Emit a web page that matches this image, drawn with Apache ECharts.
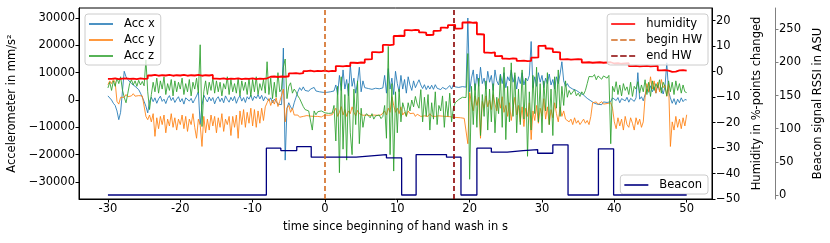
<!DOCTYPE html>
<html><head><meta charset="utf-8">
<script src="https://cdn.jsdelivr.net/npm/echarts@6/dist/echarts.min.js"></script>
<style>html,body{margin:0;padding:0;background:#fff}#c{width:830px;height:243px}</style>
</head><body><div id="c"></div>
<script>
// sampling of the accelerometer (s)
const accStart = -30, accStep = 0.25;
const accX = [
1500,800,0,-1200, -2000,-4000,-7200,-4500, 3000,10500,8500,7500, 6800,6000,5500,5000,
4300,3800,2500,1800, -500,-2300,-4700,-500, 1000,-600,800,-1200, 400,1400,-500,300,
-1300,600,1600,-200, 900,-900,300,1200, -700,500,-1500,800, 1300,-400,600,-1100,
200,1500,3000,-9000, -2000,1800,500,-700, 1100,-300,900,-1400, 400,1200,-600,700,
-1000,1500,200,-800, 1000,-300,1300,-1200, 500,1600,-400,900, -900,1200,300,1800,
-200,1400,600,2000, 400,1700,-300,1200, 500,-300,800,-1000, 300,-500,-1500,-800,
-1700,19000,-22000,-3000, -1000,-2500,-3500,-1000, 1000,3000,4500,3500, 4800,3500,4200,3200,
4000,3600,4600,3300, 3800,3000,3400,2800,
3200,2800,3500,3000, 2600,3300,5500,2000, 9000,3500,11000,4000, 7500,1500,13000,5000,
8000,2500,6500,12000, 3000,7000,4500,5000, 4200,4800,3900,4600, 4300,5000,4100,4700,
4400,9000,2500,11500, 4000,8000,2000,10500, 6000,3000,9000,4000, 7500,2500,8500,5500,
3500,7000,4500,6000, 7400,5500,4200,5600, 3800,5200,4000,5400, 3900,5600,4300,5000,
3800,4600,5200,3900, 4500,5300,4000,5600, 4800,5200,4600,5100, 4900,5300,4700,30000,
3000,8000,11000,3500, 9500,5000,12000,6000, 8000,4000,10500,6500, 9000,3500,11000,7000,
5500,9500,6000,10000, 4500,8500,7000,11000, 6500,9000,4000,8500, 6000,10000,5500,8000,
7000,9000,21400,4500, 8500,5000,10000,6500, 9000,4500,8000,6000, 9500,5500,7500,4000,
8500,6000,9500,14000, 7000,5000,6000,4800, 5200,4000,4600,3500, 3800,2600,3000,1800,
1500,600,800,-300, -500,-1200,-800,-1600, -1000,-1700,-700,-1400, -900,-1500,-600,800,
1300,-200,900,-1000, 500,1200,-300,1000, -800,600,1300,-500, 800,10000,300,1200,
-300,2000,4000,2800, 5200,3000,4800,2500, 5600,3500,4500,2200, 4800,13600,3000,800,
-1200,500,-1700,300, -1000,800,-600,200,
0];
const accY = [
5600,7000,6000,7500, 6500,-500,-1500,1000, 1500,1000,2000,1200, 1800,1500,2300,1400,
2000,1600,2200,1500, 1000,-6000,-7200,-5500, -8000,-5000,-13300,-6500, -10500,-6000,-9000,-5500,
-12000,-7000,-9500,-5000, -10000,-6500,-11000,-7000, -9000,-5500,-10500,-6000, -11500,-7000,-9000,-5000,
-10000,-14000,-7000,-9000, -17000,-6000,-12000,-7000, -11000,-5500,-9500,-6000, -12000,-6500,-10000,-5000,
-11500,-7000,-9000,-6000, -13000,-6000,-10000,-5500, -14000,-4000,-9000,-3500, -10000,-4500,-8500,-3000,
-9500,-3500,-10000,-4000, -8500,-3000,-7500,-2500, -1000,500,-2000,0, -1500,800,-2400,-500,
-1000,4000,-8000,-3000, -2000,-4500,-3000,-5500, -6000,-5500,-6300,-5800, -6000,-6200,-5700,-6100,
-5900,-6300,-6000,-5600, -6000,-5800,-6200,-5900,
-5500,-5300,-5600,-5200, -5400,-4800,-3000,-6000, -4500,-2400,-5500,-3500, -6000,-4000,-5000,-2500,
-4500,-5800,-3800,-5000, -5400,-5600,-5200,-5500, -5300,-5700,-5400,-5500, -5200,-5600,-5300,-5500,
-5000,-4000,-5500,-3000, -4500,1200,-2000,-4500, -3000,-5000,-2500,-5500, -4500,-6000,-4000,-5000,
-5500,-4800,-6000,-5200, -5000,-6000,-5300,-5800, -5500,-6000,-5000,-5900, -5200,-6000,-5400,-5800,
-5100,-5900,-5300,-6000, -5500,-6100,-5800,-6300, -6500,-6400,-6600,-6500, -6500,-6700,-6400,-16000,
2700,-1000,-4000,1500, -2000,1000,-14000,-500, -3000,1500,-2500,0, -3500,2000,-1500,-4000,
500,-3000,1200,-4500, -2000,-6000,-1000,-7500, -3000,1000,-5500,-2000, -8000,-2500,-9700,-3000,
-6000,-1000,-14500,-4000, -7500,-2000,-8500,-3000, -6000,500,-7000,-2500, -9000,-3500,-6500,-1000,
-5000,-8000,-2500,-6000, -4000,-7000,-6500,-8000, -7000,-9000,-6500,-8500, -7500,-9000,-8000,-7000,
-8500,-7500,-9000,-6000, -1000,-1500,-700,-1600, -1200,-600,-1500,-900, -1300,-1700,-1000,-3000,
-8000,-10500,-6500,-9500, -7000,-11000,-6000,-9000, -10000,-6500,-8500,-11000, -6500,-9000,-7000,-10000,
-8000,1000,6000,3000, 8500,4000,7000,2500, 6500,3000,7500,4500, 5500,1300,6000,-17000,
-8000,-11000,-6000,-10000, -7000,-10500,-6500,-9500,
-5400];
const accZ = [
4400,6500,3500,7000, 5000,8000,6000,8500, 3800,1000,-1000,2500, 6000,7400,5500,7000,
5000,7200,5500,6800, 5200,14700,3000,-3500, 2000,6500,3000,8000, 2500,7000,4000,8500,
2000,6000,3500,7500, 1500,7000,3000,6500, 4000,8000,2000,6000, 3000,7500,1500,6500,
4000,8000,2500,20200, -9700,3000,7000,2000, 6500,3500,8000,2500, 7000,3000,6500,1500,
6000,4000,8500,2000, 7500,3000,6000,2500, 8000,1500,7000,3500, 6500,2000,8000,1300,
7500,3000,8500,2000, 6000,3500,7500,2500, 14000,2000,8000,500, 6500,1000,10000,3000,
4000,12000,15000,500, 5000,6300,2500,4000, 3000,1500,500,0, -2400,-3500,-3000,-4000,
-4500,-11000,-4000,-5400, -4300,-4800,-4000,-4500,
-4700,-4500,-4900,-4400, -4800,-2000,-15000,5000, -26600,8500,-18000,2000, -22000,6000,-12000,-20000,
4000,-9000,7000,-16000, -3000,-10000,-6000,-5000, -5500,-6500,-5000,-7000, -5800,-6200,-5500,-6800,
-6000,-2000,-14000,19600, -20000,6000,-26000,3000, -12000,4000,-8000,-1000, -3500,-6000,-1000,-4000,
0,-2500,1300,-1500, -3000,3800,-8000,1000, -6000,2000,-11000,-1000, -7000,3000,-9000,-2000,
-4000,1500,-10000,-500, -6000,2500,-8000,-3000, -1000,-500,200,700, 1000,1300,900,17000,
-29000,5000,-9000,6000, -10000,8000,-13000,2000, -6000,7000,-11000,4000, -8000,6000,-12000,1000,
-5000,9000,-10000,12000, -14500,5000,-8000,13600, -6000,10000,-12000,4000, -9000,11000,-7000,8000,
-20600,3000,-11000,9000, -5000,12000,-8000,6000, -12000,7000,-4000,10000, -9000,4000,-13000,8500,
-3000,11000,-6000,5000, -2000,7000,1000,3500, 2000,1300,3800,1500, 2500,1300,3000,2000,
3500,6000,8600,8000, 8500,9300,7400,8800, 9000,7600,8800,9200, 8000,9000,-16000,5000,
3000,6700,2000,5500, 1500,6000,3500,4800, 2000,6500,1300,5000, 4000,6700,2500,5500,
3000,7400,2000,6500, 1300,7000,3500,6000, 4500,7400,2500,6500, 5000,1500,7000,3000,
6500,2000,7000,3500, 6000,2500,5500,3000,
2700];

// humidity sampling (s)
const humStart = -30, humStep = 0.5;
const humidity = [
-2.8,-2.6,-2.9,-2.7,-2.6,-2.8,-2.7,-2.9,-2.6,-2.8,
-2.7,-1.5,-1.3,-1.6,-1.4,-1.5,-1.3,-1.6,-1.4,-1.5,
-1.3,-1.6,-1.4,-1.5,-1.3,-1.6,-1.4,-1.5,-1.3,-2.7,
-2.8,-2.6,-2.9,-2.7,-2.8,-2.6,-2.9,-2.7,-2.8,-2.6,
-2.9,-2.7,-2.8,-2.6,-2.0,-1.9,-2.1,-1.9,-2.0,-1.8,
-0.7,-0.6,-0.8,-0.6,0.2,0.4,0.1,0.3,0.2,0.4,
0.1,0.3,0.2,2.2,2.1,2.3,2.2,3.5,3.4,3.6,
3.5,4.8,4.9,7.7,7.6,7.8,10.5,10.4,10.6,14.0,
14.1,14.0,16.3,16.2,16.4,16.3,15.4,15.3,14.4,14.5,
16.0,16.1,17.3,17.2,18.3,18.4,16.9,17.0,19.3,19.4,
19.2,19.3,14.7,14.6,7.5,7.4,7.6,6.1,6.2,5.1,
5.0,5.2,5.1,4.2,4.3,4.1,4.2,5.5,5.6,10.1,
10.2,9.1,9.0,7.7,7.6,4.8,4.9,4.7,4.8,4.9,
4.8,3.6,3.7,3.5,3.6,3.7,3.5,3.6,3.7,3.2,
3.3,3.1,3.2,3.3,2.2,2.3,2.1,2.2,2.3,2.1,
2.2,2.3,0.5,0.6,0.4,-0.1,0.0,0.5,0.6,0.4,
0.5];

// beacon RSSI: value holds from each time until the next one
const beaconTime  = [-30, -8.1, -6.1, -3.9, -1.9, 4.3, 6.4, 8.5, 10.6, 12.6, 16.8, 18.8, 21.0, 23.0, 25.2, 27.4, 29.4, 31.5, 33.6, 37.8, 39.9, 50];
const beaconValue = [0, 70.6, 67, 73, 57, 59, 61, 56, 0, 61, 57, 0, 70.6, 64.6, 67, 68.6, 63, 75.7, 0, 69.7, 0, 0];

const hwBegin = 0, hwEnd = 17.8;

const xTicks = [-30, -20, -10, 0, 10, 20, 30, 40, 50];
const accTicks = [-30000, -20000, -10000, 0, 10000, 20000, 30000];
const humTicks = [-50, -40, -30, -20, -10, 0, 10, 20];
const beaconTicks = [0, 50, 100, 150, 200, 250];

const pairs = (start, step, arr) => arr.map((v, i) => [start + i * step, v]);
const minus = v => String(v).replace('-', '\u2212');
const FONT = 'DejaVu Sans';
const FS = 11.5;

const chart = echarts.init(document.getElementById('c'), null, {renderer: 'canvas'});

const LINE_ICON = 'rect';
const DASH_ICON = 'path://M0,0h6.5v2h-6.5z M9,0h6.5v2h-6.5z M18,0h6v2h-6z';

const legendBase = {
  orient: 'vertical', selectedMode: false, symbolKeepAspect: false,
  backgroundColor: 'rgba(255,255,255,0.8)', borderColor: '#cccccc', borderWidth: 1, borderRadius: 3,
  padding: [4, 6, 3, 4], itemWidth: 24, itemHeight: 1.6, itemGap: 4,
  textStyle: {fontFamily: FONT, fontSize: FS, color: '#000', padding: [0, 0, 0, 6]}
};

function valueAxisY(o) {
  return Object.assign({
    type: 'value', splitLine: {show: false},
    axisLine: {show: true, onZero: false, lineStyle: {color: '#000', width: 1}},
    nameLocation: 'middle', nameRotate: 90,
    nameTextStyle: {fontFamily: FONT, fontSize: FS, color: '#000'}
  }, o);
}

const accColors = ['#1f77b4', '#ff7f0e', '#2ca02c'];
const accNames = ['Acc x', 'Acc y', 'Acc z'];
const accData = [accX, accY, accZ];

const series = accData.map((arr, k) => ({
  name: accNames[k], type: 'line', xAxisIndex: 0, yAxisIndex: 0,
  data: pairs(accStart, accStep, arr), symbol: 'none', showSymbol: false,
  lineStyle: {color: accColors[k], width: 1, opacity: 0.85},
  itemStyle: {color: accColors[k]}, silent: true, z: 2
}));

series.push({
  name: 'humidity', type: 'line', yAxisIndex: 1, step: 'end',
  data: pairs(humStart, humStep, humidity), symbol: 'none', showSymbol: false,
  lineStyle: {color: '#ff0000', width: 1.8}, itemStyle: {color: '#ff0000'}, silent: true, z: 3
});

[['begin HW', hwBegin, '#d2691e'], ['end HW', hwEnd, '#8b0000']].forEach(([nm, xv, col]) => {
  series.push({
    name: nm, type: 'line', yAxisIndex: 1, data: [], symbol: 'none',
    lineStyle: {color: col, width: 1.6, type: [5, 3]}, itemStyle: {color: col}, z: 3,
    markLine: {
      silent: true, symbol: ['none', 'none'], label: {show: false}, animation: false,
      lineStyle: {color: col, width: 1.6, type: [5, 3]},
      emphasis: {disabled: true},
      data: [{xAxis: xv}]
    }
  });
});

series.push({
  name: 'Beacon', type: 'line', yAxisIndex: 2, step: 'end',
  data: beaconTime.map((t, i) => [t, beaconValue[i]]), symbol: 'none', showSymbol: false,
  lineStyle: {color: '#000080', width: 1.3}, itemStyle: {color: '#000080'}, silent: true, z: 4
});

const option = {
  animation: false,
  textStyle: {fontFamily: FONT},
  grid: {left: 79, top: 8, width: 633, height: 191, show: true, borderColor: '#000', borderWidth: 1,
         containLabel: false, outerBoundsMode: 'none'},
  legend: [
    Object.assign({}, legendBase, {
      data: accNames.map(n => ({name: n, icon: LINE_ICON})), left: 85, top: 14}),
    Object.assign({}, legendBase, {
      data: [{name: 'humidity', icon: LINE_ICON}, {name: 'begin HW', icon: DASH_ICON}, {name: 'end HW', icon: DASH_ICON}],
      right: 122, top: 14}),
    Object.assign({}, legendBase, {data: [{name: 'Beacon', icon: LINE_ICON}], right: 122, top: 175})
  ],
  xAxis: {
    type: 'value', min: -34, max: 53.5, splitLine: {show: false},
    axisLine: {show: true, onZero: false, lineStyle: {color: '#000', width: 1}},
    axisTick: {show: true, customValues: xTicks, length: 3.5, lineStyle: {color: '#000'}},
    axisLabel: {customValues: xTicks, fontFamily: FONT, fontSize: FS, color: '#000', margin: 4},
    name: 'time since beginning of hand wash in s', nameLocation: 'middle', nameGap: 22,
    nameTextStyle: {fontFamily: FONT, fontSize: FS, color: '#000'}
  },
  yAxis: [
    valueAxisY({
      position: 'left', min: -36220, max: 33660,
      axisTick: {show: true, customValues: accTicks, length: 3.5, lineStyle: {color: '#000'}},
      axisLabel: {customValues: accTicks, formatter: minus, fontFamily: FONT, fontSize: FS, color: '#000', margin: 4},
      name: 'Accelerometer in mm/s²', nameGap: 59
    }),
    valueAxisY({
      position: 'right', offset: 0, min: -50, max: 25,
      axisTick: {show: true, customValues: humTicks, length: 3.5, lineStyle: {color: '#000'}},
      axisLabel: {customValues: humTicks, formatter: minus, fontFamily: FONT, fontSize: FS, color: '#000', margin: 4},
      name: 'Humidity in %-points changed', nameGap: 39
    }),
    valueAxisY({
      position: 'right', offset: 63, min: -6, max: 282,
      axisLine: {show: true, onZero: false, lineStyle: {color: '#808080', width: 1}},
      axisTick: {show: true, customValues: beaconTicks, length: 3.5, lineStyle: {color: '#808080'}},
      axisLabel: {customValues: beaconTicks, formatter: minus, fontFamily: FONT, fontSize: FS, color: '#000', margin: 4},
      name: 'Beacon signal RSSI in ASU', nameGap: 37
    })
  ],
  series: series
};
chart.setOption(option);
</script>
</body></html>
